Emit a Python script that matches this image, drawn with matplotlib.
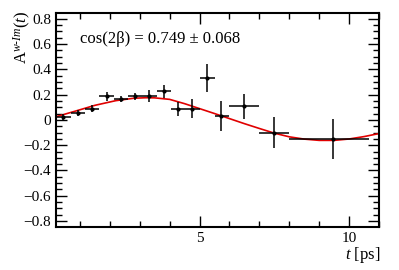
import matplotlib.pyplot as plt
from matplotlib.ticker import MultipleLocator

# binned asymmetry data
t_lo = [0.2, 0.69, 1.17, 1.64, 2.13, 2.61, 3.09, 3.56, 4.06, 4.53, 5.01, 5.5, 5.98, 6.97, 7.98]
t_hi = [0.69, 1.17, 1.64, 2.13, 2.61, 3.09, 3.56, 4.06, 4.53, 5.01, 5.5, 5.98, 6.97, 7.98, 10.67]
t_c = [0.42, 0.92, 1.39, 1.89, 2.36, 2.84, 3.31, 3.81, 4.28, 4.76, 5.26, 5.72, 6.48, 7.48, 9.47]
asym = [0.024, 0.055, 0.089, 0.186, 0.166, 0.186, 0.19, 0.226, 0.087, 0.087, 0.33, 0.034, 0.107, -0.102, -0.15]
asym_err = [0.022, 0.026, 0.028, 0.035, 0.026, 0.029, 0.047, 0.053, 0.055, 0.076, 0.108, 0.118, 0.1, 0.122, 0.16]

# fitted curve
fit_t = [0.2, 0.8, 1.5, 2.2, 2.8, 3.2, 3.5, 4.0, 4.5, 5.0, 5.5, 6.0, 6.5, 7.0, 7.5,
         8.0, 8.5, 9.0, 9.5, 10.0, 10.5, 11.0]
fit_a = [0.025, 0.066, 0.115, 0.152, 0.171, 0.175, 0.174, 0.162, 0.128, 0.089, 0.05,
         0.01, -0.03, -0.068, -0.105, -0.134, -0.152, -0.162, -0.162, -0.151, -0.132, -0.108]

plt.rcParams['font.family'] = ['Liberation Serif', 'DejaVu Serif']
plt.rcParams['mathtext.fontset'] = 'custom'
plt.rcParams['mathtext.rm'] = 'Liberation Serif'
plt.rcParams['mathtext.it'] = 'Liberation Serif:italic'

fig = plt.figure(figsize=(3.99, 2.70), dpi=100)
ax = fig.add_axes([0.1404, 0.160, 0.8096, 0.792])

ax.plot(fit_t, fit_a, color='#e00000', lw=1.2, zorder=2)

xerr_l = [c - lo for c, lo in zip(t_c, t_lo)]
xerr_h = [hi - c for c, hi in zip(t_c, t_hi)]
ax.errorbar(t_c, asym, xerr=[xerr_l, xerr_h], yerr=asym_err, fmt='o', ms=2.0,
            color='black', ecolor='black', elinewidth=1.1, capsize=0, zorder=3)

ax.set_xlim(0.2, 11)
ax.set_ylim(-0.845, 0.845)
ax.xaxis.set_major_locator(MultipleLocator(5))
ax.xaxis.set_minor_locator(MultipleLocator(1))
ax.yaxis.set_major_locator(MultipleLocator(0.2))
ax.yaxis.set_minor_locator(MultipleLocator(0.05))
ax.set_yticks([-0.8, -0.6, -0.4, -0.2, 0, 0.2, 0.4, 0.6, 0.8])
ax.set_yticklabels(['\u22120.8', '\u22120.6', '\u22120.4', '\u22120.2', '0', '0.2', '0.4', '0.6', '0.8'])
ax.tick_params(which='both', direction='in', top=True, right=True, labelsize=11, width=1.0)
ax.tick_params(which='major', length=8)
ax.tick_params(which='minor', length=4)
for s in ax.spines.values():
    s.set_linewidth(1.5)

ax.text(0.075, 0.88, 'cos(2\u03b2) = 0.749 \u00b1 0.068', transform=ax.transAxes,
        fontsize=12, va='center', ha='left')

fig.text(0.03, 0.96, r'A$^{w\text{-}Im}$($t$)', rotation=90, ha='left', va='top', fontsize=12)
fig.text(0.952, 0.02, r'$t$ [ps]', ha='right', va='bottom', fontsize=12)

fig.savefig('out.png', dpi=100)
